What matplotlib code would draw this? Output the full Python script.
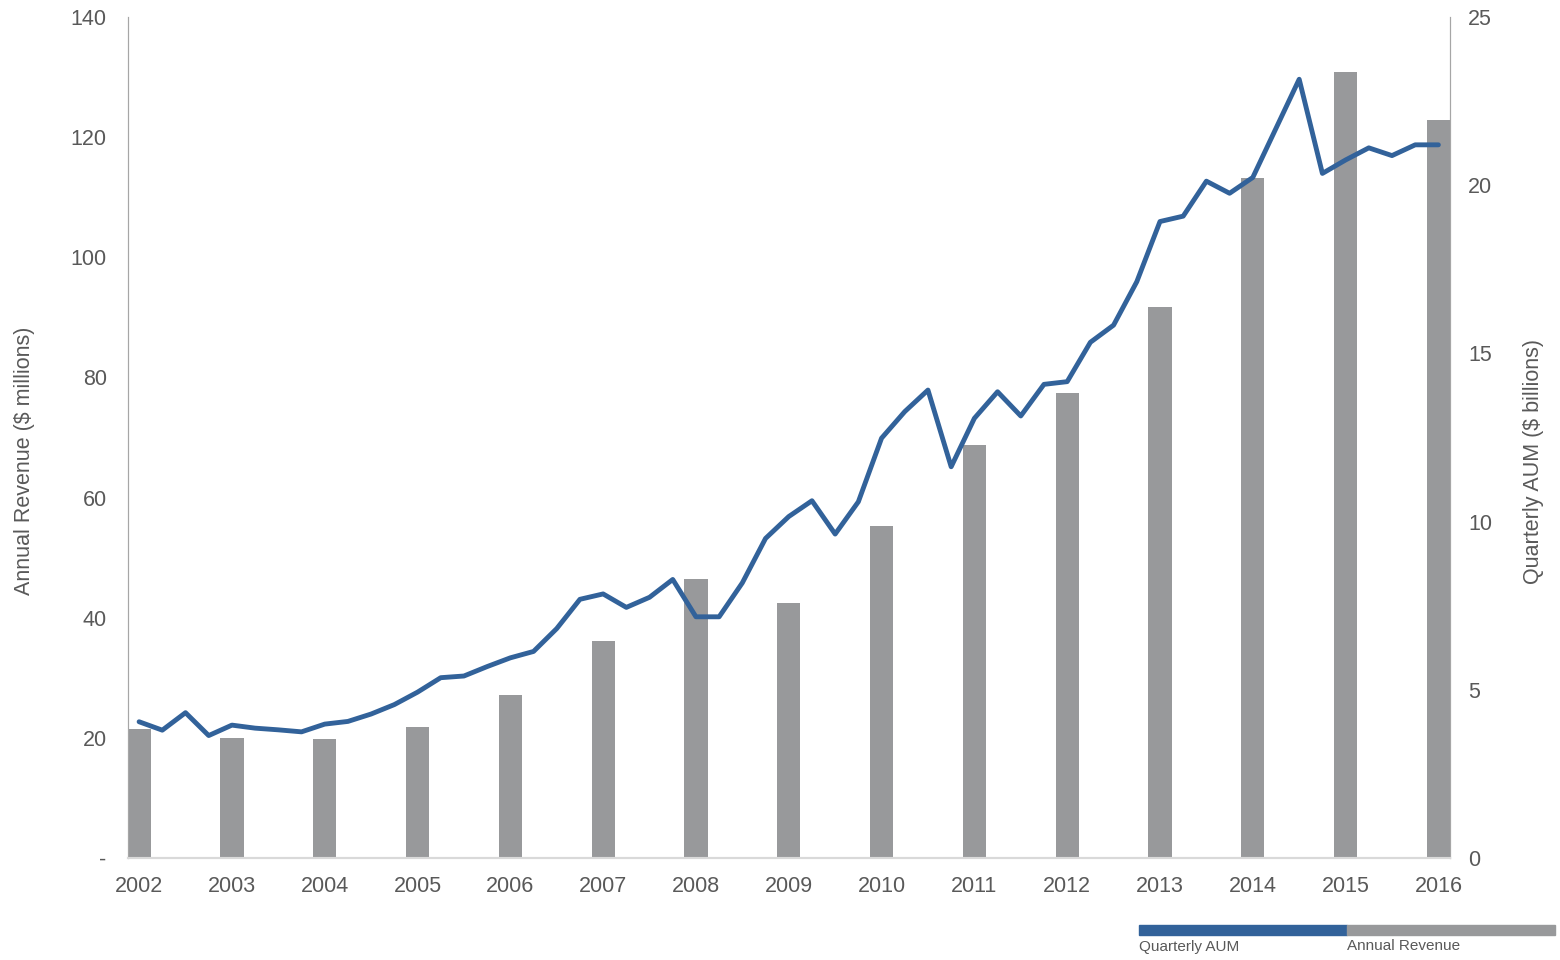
import matplotlib.pyplot as plt
import numpy as np
from matplotlib.patches import Rectangle

plt.rcParams['font.family'] = ['Liberation Sans', 'DejaVu Sans']

# datos
anios = ['2002', '2003', '2004', '2005', '2006', '2007', '2008', '2009',
         '2010', '2011', '2012', '2013', '2014', '2015', '2016']
ingresos = [21.4, 19.9, 19.8, 21.8, 27.2, 36.1, 46.4, 42.4,
            55.2, 68.8, 77.4, 91.7, 113.2, 130.9, 122.9]
# AUM trimestral ($ miles de millones), 2002 Q1 .. 2016 Q1
aum = [4.05, 3.80, 4.32, 3.64, 3.95, 3.86, 3.81, 3.75, 3.98, 4.06,
       4.28, 4.56, 4.93, 5.36, 5.41, 5.69, 5.95, 6.14, 6.82, 7.69,
       7.85, 7.45, 7.75, 8.28, 7.17, 7.17, 8.18, 9.50, 10.15, 10.62,
       9.63, 10.59, 12.48, 13.27, 13.91, 11.63, 13.07, 13.86, 13.14, 14.08,
       14.16, 15.33, 15.84, 17.13, 18.92, 19.08, 20.12, 19.76, 20.23, 21.69,
       23.15, 20.35, 20.75, 21.11, 20.88, 21.20, 21.20]

azul = '#32629a'
gris = '#98999b'
texto = '#595959'

fig = plt.figure(figsize=(15.6, 9.6), dpi=100)
ax = fig.add_axes([127.5/1560, 1-858/960, (1450-127.5)/1560, (858-17)/960])

x = np.arange(len(anios))
ax.bar(x, ingresos, width=0.25, color=gris, zorder=2)
ax.set_xlim(-0.125, len(anios) - 1 + 0.125)
ax.set_ylim(0, 140)
ax.set_yticks(range(0, 141, 20))
ax.set_yticklabels(['-'] + [str(v) for v in range(20, 141, 20)])
ax.set_xticks(x)
ax.set_xticklabels(anios)
ax.tick_params(axis='both', length=0, labelsize=15.5, colors=texto)
ax.tick_params(axis='y', pad=15)
ax.tick_params(axis='x', pad=13)
ax.set_ylabel('Annual Revenue ($ millions)', fontsize=15.5, color=texto)
ax.yaxis.set_label_coords(-0.075 + 7/1322.5, (858-461)/841)

ax2 = ax.twinx()
xq = np.arange(len(aum)) / 4
ax2.plot(xq, aum, color=azul, linewidth=3.5, solid_capstyle='round', zorder=3)
ax2.set_ylim(0, 25)
ax2.set_yticks(range(0, 26, 5))
ax2.tick_params(axis='y', length=0, labelsize=15.5, colors=texto, pad=13)
ax2.set_ylabel('Quarterly AUM ($ billions)', fontsize=15.5, color=texto)
ax2.yaxis.set_label_coords(1 + (1523-1450)/1322.5, (858-461)/841)

for a in (ax, ax2):
    a.spines['top'].set_visible(False)
    a.spines['left'].set_color('#a6a6a6')
    a.spines['right'].set_color('#a6a6a6')
    a.spines['bottom'].set_color('#d9d9d9')
    a.spines['bottom'].set_linewidth(1.5)

# leyenda manual
fig.add_artist(Rectangle((1139/1560, 1-935/960), 208/1560, 10/960,
                         transform=fig.transFigure, color=azul))
fig.add_artist(Rectangle((1347/1560, 1-935/960), 208/1560, 10/960,
                         transform=fig.transFigure, color=gris))
fig.text(1139/1560, 1-947/960, 'Quarterly AUM', fontsize=11, color=texto, va='center')
fig.text(1347/1560, 1-946/960, 'Annual Revenue', fontsize=11, color=texto, va='center')

fig.savefig('out.png', dpi=100)
